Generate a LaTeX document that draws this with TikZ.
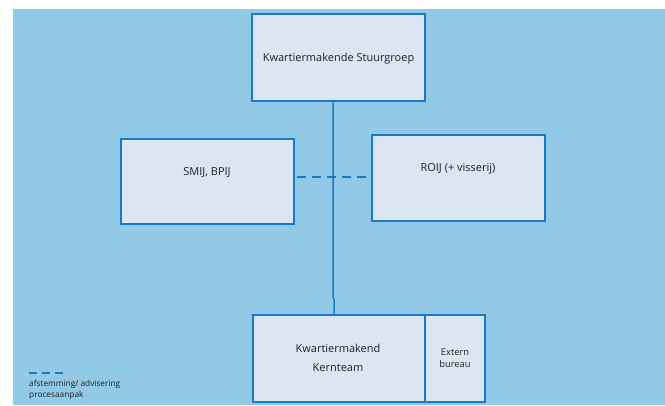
\documentclass[tikz,border=0pt]{standalone}
\usepackage{fontspec}
\setmainfont{Open Sans}
\definecolor{bgblue}{HTML}{92C9E6}
\definecolor{lineblue}{HTML}{1A78C8}
\definecolor{boxfill}{HTML}{DCE5F2}
\definecolor{txt}{HTML}{231F20}
\begin{document}
\begin{tikzpicture}[x=1pt,y=-1pt,
  box/.style={draw=lineblue,line width=1.8pt,fill=boxfill,inner sep=0pt,anchor=center},
  lbl/.style={font=\fontsize{11}{19}\selectfont,text=txt,align=center,inner sep=0pt},
  leg/.style={font=\fontsize{8.3}{11}\selectfont,text=txt,align=left,inner sep=0pt,anchor=west},
  conn/.style={draw=lineblue,line width=1.5pt},
  dashconn/.style={draw=lineblue,line width=1.8pt,dash pattern=on 9pt off 6pt}]
\useasboundingbox (0,0) rectangle (665,405);
\fill[white] (0,0) rectangle (665,405);
\fill[bgblue] (13,9) rectangle (665,405);
% connectors first (under boxes)
\coordinate (vtop) at (333,101);
\coordinate (vjog) at (333,297);
\coordinate (vjog2) at (334,299);
\coordinate (vbot) at (334,315);
\draw[conn] (vtop) -- (vjog) -- (vjog2) -- (vbot);
\coordinate (dl) at (297,177);
\coordinate (dr) at (370,177);
\draw[dashconn] (dl) -- (dr);
% boxes
\node[box,minimum width=173pt,minimum height=87pt] (stuur) at (338.5,57.5) {};
\node[box,minimum width=173pt,minimum height=85pt] (smij) at (207.5,181.5) {};
\node[box,minimum width=173pt,minimum height=86pt] (roij) at (458.5,178) {};
\node[box,minimum width=172pt,minimum height=87pt] (kern) at (339,358.5) {};
\node[box,minimum width=60pt,minimum height=87pt] (extern) at (455,358.5) {};
% labels
\node[lbl] (tstuur) at (338.5,59) {Kwartiermakende Stuurgroep};
\node[lbl] (tsmij) at (207,173) {SMIJ, BPIJ};
\node[lbl] (troij) at (458,169) {ROIJ (+ visserij)};
\node[lbl] (tkern) at (338,357.5) {Kwartiermakend\\Kernteam};
\node[lbl,font=\fontsize{9.3}{12}\selectfont] (textern) at (455,358) {Extern\\bureau};
% legend
\coordinate (ll) at (29,373);
\coordinate (lr) at (64,373);
\draw[dashconn,dash pattern=on 8pt off 5pt] (ll) -- (lr);
\node[leg] (tleg) at (29,389.5) {afstemming/ advisering\\procesaanpak};
\end{tikzpicture}
\end{document}
